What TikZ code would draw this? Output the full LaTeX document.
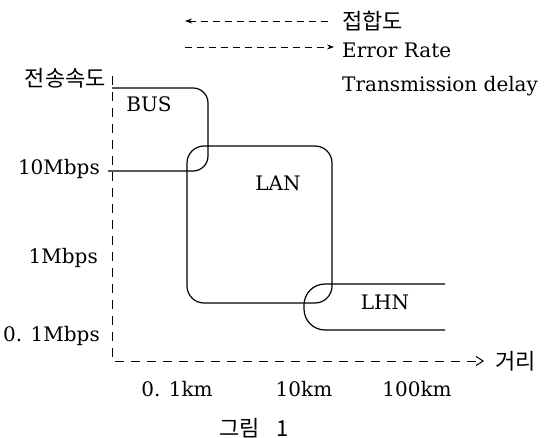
\documentclass[tikz,border=0pt]{standalone}
\usepackage{fontspec}
\setmainfont{DejaVu Serif}
\newfontfamily\krfont{Noto Sans CJK KR}
\usetikzlibrary{arrows.meta,positioning}

\begin{document}
\begin{tikzpicture}[
    x=1pt, y=-1pt,
    font=\fontsize{20}{23}\selectfont,
    etiq/.style={inner sep=0pt},
    hangul/.style={inner sep=0pt, font=\krfont\fontsize{22}{24}\selectfont},
    axe/.style={line width=1pt, dash pattern=on 9pt off 7pt},
    legende/.style={line width=0.9pt, dash pattern=on 7pt off 5pt},
    zone/.style={line width=1.2pt}
  ]
    \useasboundingbox (0,0) rectangle (548,438);

    % legende
    \node[hangul, anchor=west] (leg1) at (342,21) {접합도};
    \node[etiq, anchor=base west] (leg2) at (342,58) {Error Rate};
    \node[etiq, anchor=base west] (leg3) at (342,92) {Transmission delay};
    \coordinate (g1) at (185,21);
    \coordinate (g2) at (185,47);
    \coordinate (g2b) at (334,47);
    \draw[legende, {Stealth[length=7pt, width=5pt]}-, shorten >=9pt] (g1) -- (leg1.west);
    \draw[legende, -{Stealth[length=7pt, width=5pt]}] (g2) -- (g2b);

    % axes
    \coordinate (o) at (112,361);
    \coordinate (ytop) at (112,76);
    \node[hangul, anchor=east] (ylab) at (106,78) {전송속도};
    \node[hangul, anchor=west] (xlab) at (495,361) {거리};
    \draw[axe, -{Straight Barb[length=7pt, width=9pt]}, shorten >=11pt]
      (ytop) -- (o) -- (xlab.west);

    % graduations
    \node[etiq, anchor=base east] (t10) at (100,175) {10Mbps};
    \node[etiq, anchor=base east] (t1) at (98,263) {1Mbps};
    \node[etiq, anchor=base east] (t01) at (100,341) {0. 1Mbps};
    \node[etiq, anchor=base] (d01) at (177,396) {0. 1km};
    \node[etiq, anchor=base] (d10) at (304,396) {10km};
    \node[etiq, anchor=base] (d100) at (417,396) {100km};

    % zones
    \draw[zone, rounded corners=15] (112,88) -- (208,88) -- (208,171) -- (108,171);
    \draw[zone, rounded corners=17] (187,146) rectangle (332,303);
    \draw[zone, rounded corners=21] (445,284) -- (304,284) -- (304,330) -- (445,330);
    \node[etiq, anchor=base] (bus) at (149,112) {BUS};
    \node[etiq, anchor=base] (lan) at (278,191) {LAN};
    \node[etiq, anchor=base] (lhn) at (385,309) {LHN};

    % legende de la figure
    \node[inner sep=0pt, font=\krfont\fontsize{22}{24}\selectfont] (fig) at (254,428) {그림\hspace{16pt}1};
  \end{tikzpicture}
\end{document}
